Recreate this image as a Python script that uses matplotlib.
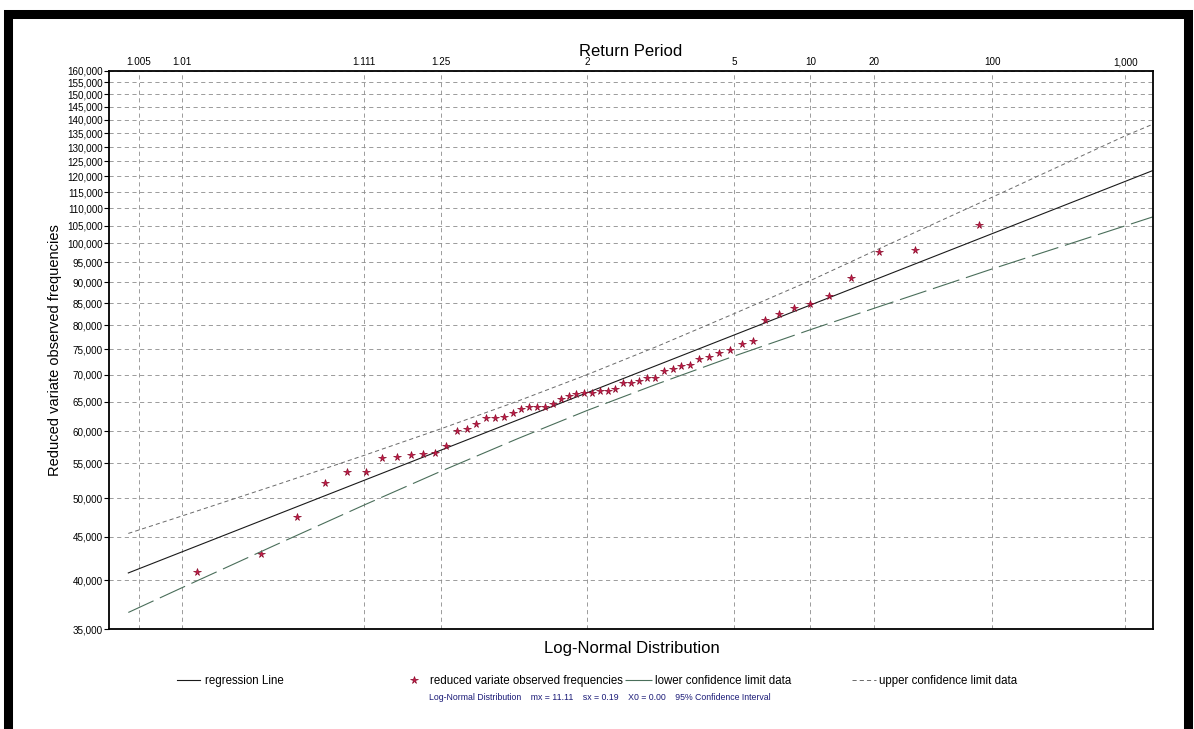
import matplotlib
matplotlib.use("Agg")
import matplotlib.pyplot as plt
from matplotlib.ticker import FixedLocator, FuncFormatter, NullLocator
from matplotlib.patches import Rectangle
from statistics import NormalDist

plt.rcParams["font.family"] = ["Liberation Sans", "DejaVu Sans"]
plt.rcParams["lines.scale_dashes"] = False

# observed values against their reduced variate (standard normal quantile)
obs_reduced_variate = [-2.242, -1.878, -1.667, -1.508, -1.382, -1.271, -1.179, -1.093,
                       -1.014, -0.945, -0.876, -0.814, -0.751, -0.694, -0.640, -0.581,
                       -0.529, -0.481, -0.429, -0.383, -0.336, -0.290, -0.245, -0.198,
                       -0.150, -0.107, -0.064, -0.018, 0.026, 0.072, 0.117, 0.159,
                       0.205, 0.249, 0.295, 0.343, 0.390, 0.439, 0.490, 0.538,
                       0.590, 0.643, 0.699, 0.756, 0.821, 0.886, 0.952, 1.022,
                       1.099, 1.186, 1.279, 1.389, 1.515, 1.674, 1.881, 2.251]
obs_values = [40850, 42980, 47540, 52130, 53710, 53710, 55760, 55910,
              56170, 56330, 56570, 57690, 60010, 60340, 61120, 62220,
              62220, 62340, 63020, 63660, 64110, 64110, 64110, 64630,
              65440, 66010, 66370, 66610, 66610, 66950, 66950, 67240,
              68350, 68480, 68730, 69270, 69410, 70590, 71130, 71630,
              71780, 72940, 73400, 74310, 74880, 75990, 76710, 81170,
              82510, 83870, 84860, 86740, 91010, 97600, 98140, 105070]

# regression line, ends
reg_reduced_variate = [-2.638, 3.252]
reg_values = [40800, 122000]

# 95% confidence limits
conf_reduced_variate = [-2.638, -2.33, -1.8, -1.282, -0.842, -0.4, 0.0, 0.4,
                        0.842, 1.282, 1.645, 2.326, 3.09, 3.252]
upper_values = [45430, 47640, 51740, 56190, 60390, 65120, 70000, 75560,
                82590, 90400, 97900, 113400, 134000, 138400]
lower_values = [36640, 39190, 43950, 49090, 53800, 58800, 63500, 68220,
                73590, 79090, 83790, 93300, 104900, 107540]

return_periods = [1.005, 1.01, 1.111, 1.25, 2, 5, 10, 20, 100, 1000]
return_period_labels = ["1.005", "1.01", "1.111", "1.25", "2", "5", "10", "20", "100", "1,000"]
y_ticks = list(range(35000, 160001, 5000))

W, H = 1194, 729
fig = plt.figure(figsize=(W / 100, H / 100), dpi=100)
ax = fig.add_axes([109 / W, 1 - 629.3 / H, (1153.3 - 109) / W, (629.3 - 70.7) / H])

nd = NormalDist()
tick_pos = [nd.inv_cdf(1 - 1 / t) for t in return_periods]

reg_line, = ax.plot(reg_reduced_variate, reg_values, color="#1a1a1a", lw=0.8)
obs_pts, = ax.plot(obs_reduced_variate, obs_values, linestyle="none", marker="*",
                   markersize=5.5, color="#d01848", markeredgecolor="#8a0c2c",
                   markeredgewidth=0.5)
low_line, = ax.plot(conf_reduced_variate, lower_values, color="#4a6e5a", lw=0.8,
                    linestyle=(0, (20, 5)))
up_line, = ax.plot(conf_reduced_variate, upper_values, color="#6a6a6a", lw=0.7,
                   linestyle=(0, (3, 2.2)))

ax.set_xlim(-2.749, 3.252)
ax.set_yscale("log")
ax.set_ylim(35000, 160000)
ax.yaxis.set_major_locator(FixedLocator(y_ticks))
ax.yaxis.set_minor_locator(NullLocator())
ax.yaxis.set_major_formatter(FuncFormatter(lambda v, p: f"{v:,.0f}"))
ax.tick_params(axis="y", length=3.5, width=0.8, pad=1, labelsize=7.1)

ax.xaxis.tick_top()
ax.set_xticks(tick_pos)
ax.set_xticklabels(return_period_labels)
ax.xaxis.set_minor_locator(NullLocator())
ax.tick_params(axis="x", length=0, pad=2.5, labelsize=7.1)

ax.grid(True, color="#8c8c8c", linestyle=(0, (3, 2.5)), linewidth=0.6)
ax.set_axisbelow(True)
for s in ax.spines.values():
    s.set_linewidth(1.3)
    s.set_color("black")

fig.text(631 / W, 1 - 51 / H, "Return Period", ha="center", va="center", fontsize=12)
fig.text(632 / W, 1 - 649 / H, "Log-Normal Distribution", ha="center", va="center", fontsize=12)
fig.text(55 / W, 1 - 350 / H, "Reduced variate observed frequencies", rotation=90,
         ha="center", va="center", fontsize=10.5)

# legend entries sit at uneven positions, so one legend per entry
legend_y = 1 - 681 / H
entries = [
    (reg_line, "regression Line", 177, 2.0, 0.45),
    (obs_pts, "reduced variate observed frequencies", 408, 1.0, 0.9),
    (low_line, "lower confidence limit data", 625, 2.3, 0.3),
    (up_line, "upper confidence limit data", 852, 2.1, 0.25),
]
for handle, label, x0, hl, pad in entries:
    fig.legend(handles=[handle], labels=[label], loc="center left",
               bbox_to_anchor=(x0 / W, legend_y), frameon=False, fontsize=8.3,
               borderpad=0, borderaxespad=0, handlelength=hl, handletextpad=pad,
               numpoints=1)

fig.text(600 / W, 1 - 697 / H,
         "Log-Normal Distribution    mx = 11.11    sx = 0.19    X0 = 0.00    95% Confidence Interval",
         ha="center", va="center", fontsize=6.3, color="#1c1c78")

# thick black frame around the whole picture (bottom edge falls outside)
frame = Rectangle((7.5 / W, -0.1), (1187.5 - 7.5) / W, 1.1 - 13.5 / H,
                  transform=fig.transFigure, fill=False, lw=6.5,
                  edgecolor="black", clip_on=False)
fig.add_artist(frame)

fig.savefig("out.png", dpi=100)
